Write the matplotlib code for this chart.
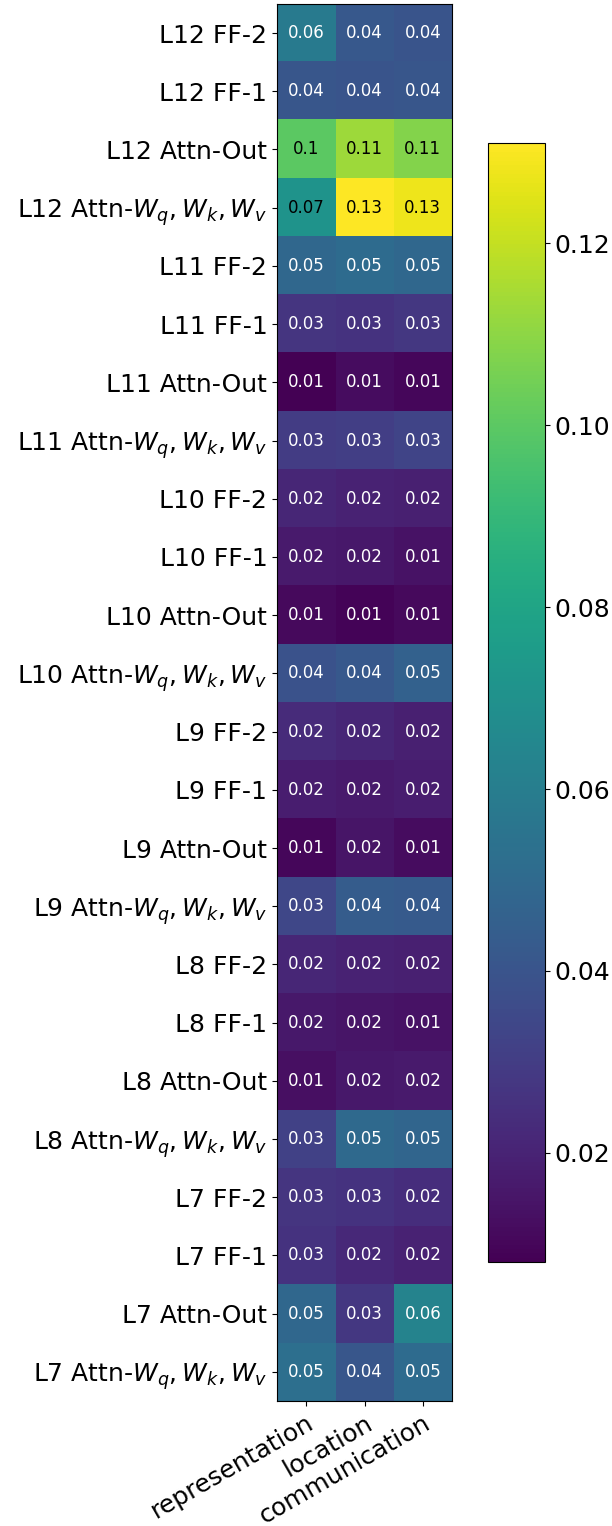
import matplotlib.pyplot as plt
import numpy as np

rows = ['L12 FF-2', 'L12 FF-1', 'L12 Attn-Out', 'L12 Attn-$W_q, W_k, W_v$',
        'L11 FF-2', 'L11 FF-1', 'L11 Attn-Out', 'L11 Attn-$W_q, W_k, W_v$',
        'L10 FF-2', 'L10 FF-1', 'L10 Attn-Out', 'L10 Attn-$W_q, W_k, W_v$',
        'L9 FF-2', 'L9 FF-1', 'L9 Attn-Out', 'L9 Attn-$W_q, W_k, W_v$',
        'L8 FF-2', 'L8 FF-1', 'L8 Attn-Out', 'L8 Attn-$W_q, W_k, W_v$',
        'L7 FF-2', 'L7 FF-1', 'L7 Attn-Out', 'L7 Attn-$W_q, W_k, W_v$']
cols = ['representation', 'location', 'communication']

representation = [0.058, 0.041, 0.100, 0.071, 0.049, 0.027, 0.008, 0.030,
                  0.021, 0.017, 0.011, 0.039, 0.023, 0.018, 0.010, 0.034,
                  0.021, 0.016, 0.013, 0.032, 0.027, 0.026, 0.049, 0.053]
location = [0.042, 0.040, 0.113, 0.131, 0.051, 0.026, 0.012, 0.031,
            0.020, 0.016, 0.009, 0.042, 0.021, 0.017, 0.015, 0.044,
            0.020, 0.015, 0.016, 0.050, 0.026, 0.022, 0.028, 0.041]
communication = [0.040, 0.041, 0.108, 0.128, 0.049, 0.028, 0.010, 0.033,
                 0.019, 0.014, 0.011, 0.046, 0.019, 0.018, 0.012, 0.043,
                 0.019, 0.014, 0.017, 0.048, 0.024, 0.020, 0.063, 0.051]

data = np.array([representation, location, communication]).T

fig = plt.figure(figsize=(6.12, 15.26), dpi=100)
ax = fig.add_axes([0.4526, 0.0819, 0.286, 0.9155])
cax = fig.add_axes([0.797, 0.173, 0.093, 0.733])

im = ax.imshow(data, cmap='viridis', aspect='auto')
cb = fig.colorbar(im, cax=cax)
cb.ax.tick_params(labelsize=18)

ax.set_xticks(np.arange(len(cols)))
ax.set_xticklabels(cols, fontsize=18, rotation=30, ha='right', rotation_mode='anchor')
ax.set_yticks(np.arange(len(rows)))
ax.set_yticklabels(rows, fontsize=18)

thresh = im.norm(data.max()) / 2
for i in range(data.shape[0]):
    for j in range(data.shape[1]):
        color = 'black' if im.norm(data[i, j]) > thresh else 'white'
        ax.text(j, i, round(data[i, j], 2), ha='center', va='center',
                color=color, fontsize=12)

plt.savefig('out.png')
